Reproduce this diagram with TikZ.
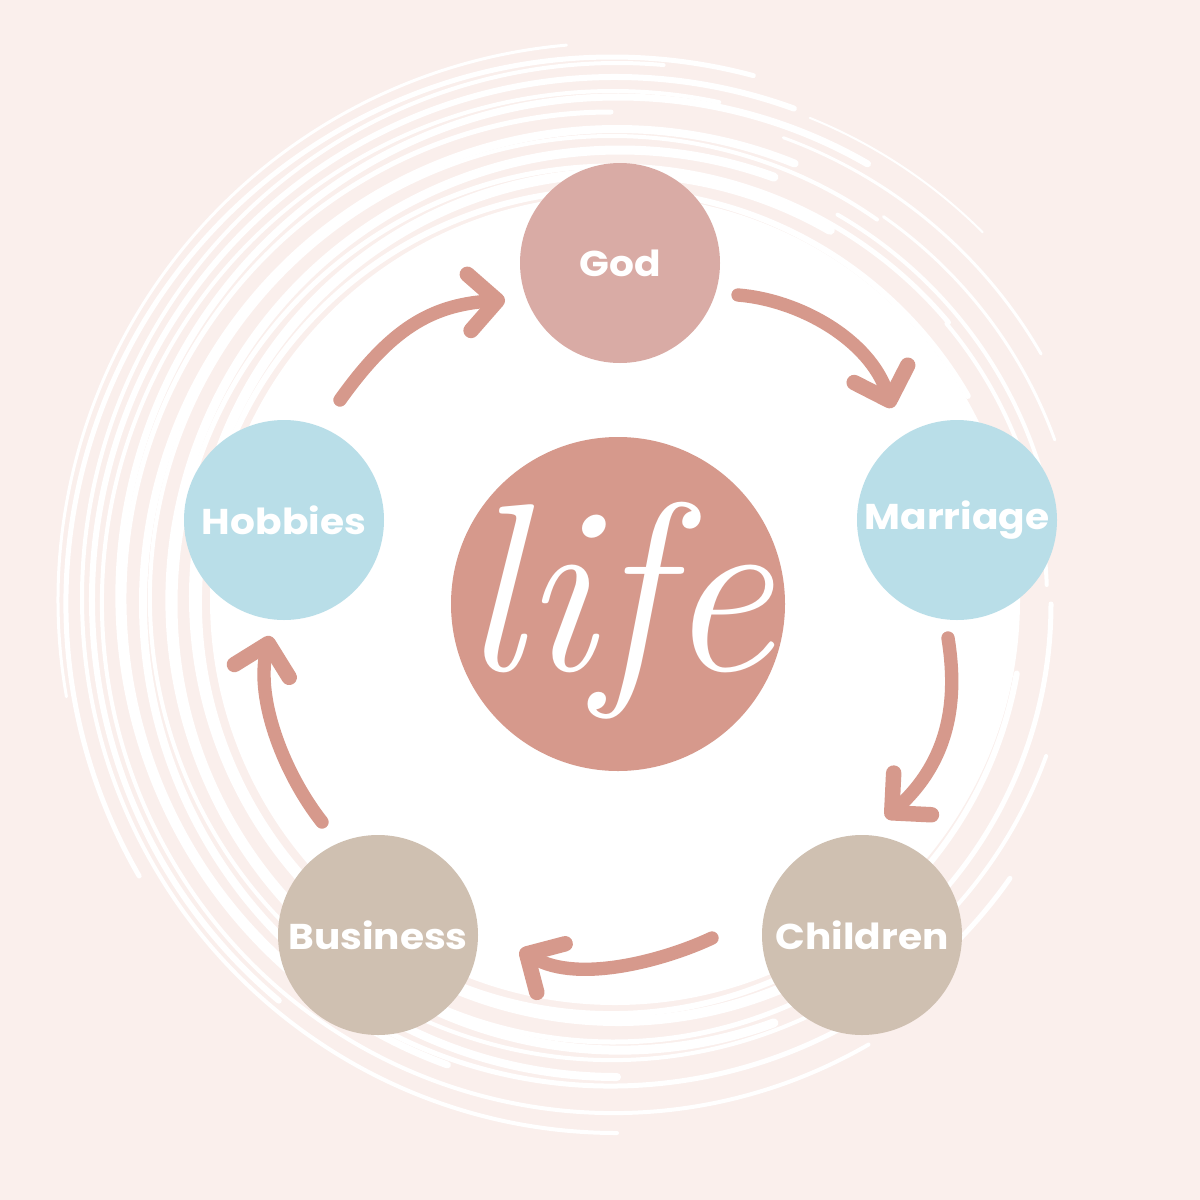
\documentclass[tikz,border=0pt]{standalone}
\usepackage{fontspec}
\usetikzlibrary{arrows.meta}
\newfontfamily\lblfont[FakeStretch=1.09]{Poppins}
\definecolor{bgpink}{HTML}{FAEFEC}
\definecolor{godc}{HTML}{D9ABA5}
\definecolor{lifec}{HTML}{D6998C}
\definecolor{bluec}{HTML}{B9DEE8}
\definecolor{beigec}{HTML}{CFC0B1}
\tikzset{
  bubble/.style={circle, minimum size=200*0.01cm, inner sep=0pt, text=white,
    font=\lblfont\bfseries\fontsize{10.2pt}{12pt}\selectfont},
  flow/.style={draw=lifec, line width=3.8pt, line cap=round,
    -{Straight Barb[length=8pt, width=16pt, line width=4.4pt, round]}},
  ring/.style={draw=white, line cap=round}
}
\begin{document}
\begin{tikzpicture}[x=0.01cm, y=-0.01cm]
  \fill[bgpink] (0,0) rectangle (1200,1200);
  \useasboundingbox (0,0) rectangle (1200,1200);
  % scribbled rings
  \foreach \r/\w/\a/\b/\dx/\dy in {
     398/14/0/360/0/0, 412/6/10/330/-4/2, 424/10/50/300/3/-3, 438/5/0/320/-2/4,
     450/9/70/290/5/0, 462/4/20/305/-3/-2, 474/8/90/292/2/3, 487/5/35/270/-4/-1,
     499/7/110/300/3/-4, 511/4/60/282/-2/2, 523/6/130/290/0/0, 535/4/90/275/2/-2,
     546/5/150/285/-3/3, 557/3/170/265/0/0,
     445/4/300/350/0/0, 468/3/305/340/0/0, 492/3/290/330/0/0, 520/2/292/315/0/0,
     430/4/320/358/2/0}
    \draw[ring, line width=\w*0.2845pt] ({615+\dx+\r*cos(\a)},{600+\dy+\r*sin(\a)})
       arc[start angle=\a, end angle=\b, radius=\r];
  \fill[white] (615,600) circle[radius=392];
  % nodes
  \node[bubble, fill=godc] (god) at (620,263) {God};
  \node[bubble, fill=bluec] (marriage) at (957,520) {Marriage};
  \node[bubble, fill=beigec] (children) at (862,935) {Children};
  \node[bubble, fill=beigec] (business) at (378,935) {Business};
  \node[bubble, fill=bluec] (hobbies) at (284,520) {Hobbies};
  \node[circle, fill=lifec, minimum size=334*0.01cm, inner sep=0pt, text=white,
        font=\itshape\fontsize{68pt}{68pt}\selectfont] (life) at (618,604)
        {\makebox[0pt]{\smash{\raisebox{-0.28em}{life}}}};
  % connector anchors
  \coordinate (a1s) at (340,400); \coordinate (a1e) at (505,300);
  \coordinate (a2s) at (738,295); \coordinate (a2e) at (892,408);
  \coordinate (a3s) at (948,638); \coordinate (a3e) at (886,818);
  \coordinate (a4s) at (712,938); \coordinate (a4e) at (520,950);
  \coordinate (a5s) at (322,822); \coordinate (a5e) at (270,636);
  \draw[flow] (a1s) .. controls (390,330) and (430,305) .. (a1e);
  \draw[flow] (a2s) .. controls (800,300) and (870,340) .. (a2e);
  \draw[flow] (a3s) .. controls (958,700) and (950,760) .. (a3e);
  \draw[flow] (a4s) .. controls (670,958) and (580,985) .. (a4e);
  \draw[flow] (a5s) .. controls (285,775) and (255,700) .. (a5e);
\end{tikzpicture}
\end{document}
